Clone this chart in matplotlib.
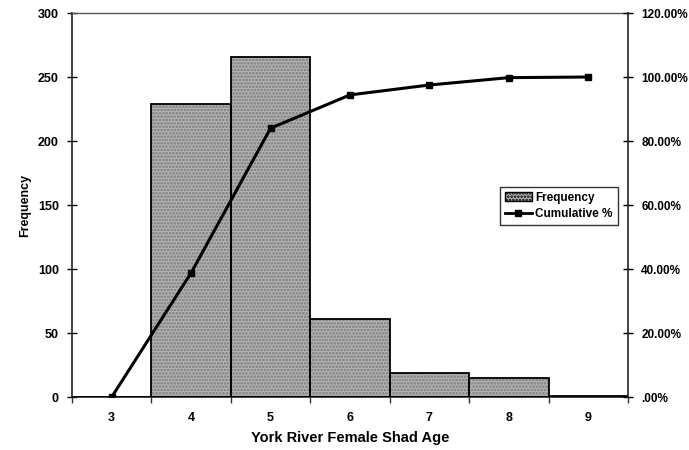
import matplotlib
matplotlib.use("Agg")
import matplotlib.pyplot as plt
from matplotlib.ticker import FuncFormatter, FixedLocator, NullFormatter
from matplotlib.patches import Patch
from matplotlib.lines import Line2D

ages = [3, 4, 5, 6, 7, 8, 9]
frequency = [0, 229, 266, 61, 19, 15, 1]
cumulative_pct = [0.0, 38.8, 84.0, 94.4, 97.5, 99.8, 100.0]
left_ticks = [0, 50, 100, 150, 200, 250, 300]
right_ticks = [0, 20, 40, 60, 80, 100, 120]

plt.rcParams['font.family'] = ['Liberation Sans', 'DejaVu Sans']
plt.rcParams['font.weight'] = 'bold'
plt.rcParams['hatch.linewidth'] = 1.3

fig = plt.figure(figsize=(6.89, 4.5), dpi=100)
ax = fig.add_axes([72/689, 1 - 397/450, (628 - 72)/689, (397 - 13)/450])

# bars: textured gray fill, then black outline
ax.bar(ages, frequency, width=1.0, facecolor='#b4b4b4', edgecolor='#7a7a7a',
       hatch='.....', linewidth=0, zorder=2)
ax.bar(ages, frequency, width=1.0, facecolor='none', edgecolor='black',
       linewidth=1.3, zorder=3)

ax.set_xlim(2.5, 9.5)
ax.set_ylim(0, 300)
ax.yaxis.set_major_locator(FixedLocator(left_ticks))
ax.xaxis.set_major_locator(FixedLocator([a + 0.5 for a in ages[:-1]] + [2.5, 9.5]))
ax.xaxis.set_major_formatter(NullFormatter())
ax.tick_params(axis='x', which='major', direction='out', length=4, width=1, color='#333333')
ax.set_xticks(ages, minor=True)
ax.set_xticklabels([str(a) for a in ages], minor=True, fontweight='bold')
ax.tick_params(axis='x', which='minor', length=0, labelsize=9, pad=11)
ax.tick_params(axis='y', direction='inout', length=7, width=1, labelsize=9, pad=6)

for s in ['left', 'bottom']:
    ax.spines[s].set_linewidth(1.2)
    ax.spines[s].set_color('#222222')
ax.spines['top'].set_color('#555555')
ax.spines['top'].set_linewidth(1.0)
ax.spines['right'].set_visible(False)

ax.set_ylabel('Frequency', fontsize=9, fontweight='bold', labelpad=5)
ax.set_xlabel('York River Female Shad Age', fontsize=10.5, fontweight='bold',
              labelpad=5)
for lab in ax.get_yticklabels():
    lab.set_fontweight('bold')

ax2 = ax.twinx()
ax2.set_ylim(0, 120)
ax2.plot(ages, cumulative_pct, color='black', linewidth=2.2, marker='s',
         markersize=5, markerfacecolor='black', zorder=5)
ax2.yaxis.set_major_locator(FixedLocator(right_ticks))
ax2.yaxis.set_major_formatter(FuncFormatter(
    lambda v, p: ('%.2f%%' % v) if v != 0 else '.00%'))
ax2.tick_params(axis='y', direction='inout', length=7, width=1, labelsize=8.5, pad=6)
for lab in ax2.get_yticklabels():
    lab.set_fontweight('bold')
for s in ['left', 'top', 'bottom']:
    ax2.spines[s].set_visible(False)
ax2.spines['right'].set_linewidth(1.2)
ax2.spines['right'].set_color('#222222')

handles = [Patch(facecolor='#b4b4b4', edgecolor='black', hatch='.....', linewidth=1),
           Line2D([0], [0], color='black', linewidth=2, marker='s', markersize=5)]
leg = ax2.legend(handles, ['Frequency', 'Cumulative %'], loc='upper left',
                 bbox_to_anchor=((500 - 72)/556, 1 - (187 - 13)/384),
                 frameon=True, fancybox=False, edgecolor='black', fontsize=8.5,
                 handlelength=2.3, handletextpad=0.3, borderpad=0.4,
                 labelspacing=0.35, borderaxespad=0)
leg.get_frame().set_linewidth(1.0)
for t in leg.get_texts():
    t.set_fontweight('bold')

fig.savefig('out.png', dpi=100)
